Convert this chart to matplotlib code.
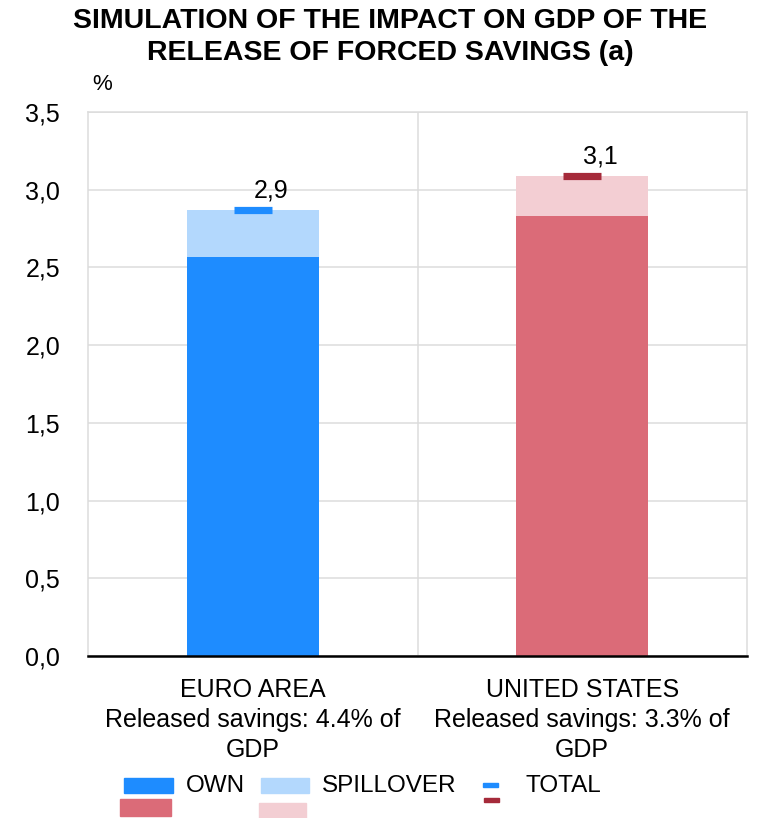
import matplotlib
matplotlib.use("Agg")
import matplotlib.pyplot as plt
from matplotlib.patches import Rectangle
from matplotlib.ticker import FuncFormatter

plt.rcParams['font.family'] = ['Liberation Sans', 'DejaVu Sans']

categories = ["EURO AREA\nReleased savings: 4.4% of\nGDP",
              "UNITED STATES\nReleased savings: 3.3% of\nGDP"]
own = [2.57, 2.83]
spillover = [0.30, 0.26]
total = [2.87, 3.09]
total_labels = ["2,9", "3,1"]

own_colors = ["#1E8CFF", "#DB6B78"]
spill_colors = ["#B3D8FD", "#F3CED3"]
total_colors = ["#1E8CFF", "#A52A3A"]

FS = 18

fig = plt.figure(figsize=(7.59, 8.18), dpi=100)
ax = fig.add_axes([88/759, 1-656/818, (747-88)/759, (656-112)/818])

x = list(range(len(categories)))
ax.bar(x, own, width=0.4, color=own_colors, zorder=2)
ax.bar(x, spillover, width=0.4, bottom=own, color=spill_colors, zorder=2)
for xi, t, c, lab in zip(x, total, total_colors, total_labels):
    ax.hlines(t, xi - 0.057, xi + 0.057, colors=c, linewidth=5.2, zorder=3)
    ax.annotate(lab, (xi, t), xytext=(13, 5), textcoords="offset points",
                ha="center", va="bottom", fontsize=FS)

ax.set_xlim(-0.5, 1.5)
ax.set_ylim(0, 3.5)
ax.set_yticks([0, 0.5, 1.0, 1.5, 2.0, 2.5, 3.0, 3.5])
ax.yaxis.set_major_formatter(FuncFormatter(lambda v, p: f"{v:.1f}".replace(".", ",")))
ax.set_xticks(x)
ax.set_xticklabels(categories, fontsize=FS, linespacing=1.32)
ax.tick_params(axis="both", length=0, labelsize=FS)
ax.tick_params(axis="y", pad=20)
ax.tick_params(axis="x", pad=16)

grid_c = "#DCDCDC"
ax.grid(axis="y", color=grid_c, linewidth=1.1, zorder=0)
ax.axvline(0.5, color=grid_c, linewidth=1.1, zorder=0)
for s in ["left", "right", "top"]:
    ax.spines[s].set_color(grid_c)
    ax.spines[s].set_linewidth(1.1)
ax.spines["bottom"].set_color("black")
ax.spines["bottom"].set_linewidth(1.8)
ax.spines["bottom"].set_zorder(4)

W, H = 759, 818
fig.text(390/W, 1-21/H, "SIMULATION OF THE IMPACT ON GDP OF THE",
         ha="center", va="center", fontsize=20.5, fontweight="bold")
fig.text(390/W, 1-53/H, "RELEASE OF FORCED SAVINGS (a)",
         ha="center", va="center", fontsize=20.5, fontweight="bold")
fig.text(102/W, 1-85/H, "%", ha="center", va="center", fontsize=16)

# legend drawn in figure pixels
def patch(x0, y0, x1, y1, color):
    fig.patches.append(Rectangle((x0/W, 1-y1/H), (x1-x0)/W, (y1-y0)/H,
                                 transform=fig.transFigure, color=color))
patch(124, 778, 173, 793, own_colors[0])
patch(120, 799, 171, 816, own_colors[1])
patch(261, 778, 309, 793, spill_colors[0])
patch(259, 803, 306, 818, spill_colors[1])
patch(483, 783, 498, 787, total_colors[0])
patch(484, 798, 499, 802, total_colors[1])
for tx, txt in [(186, "OWN"), (322, "SPILLOVER"), (526, "TOTAL")]:
    fig.text(tx/W, 1-786/H, txt, ha="left", va="center", fontsize=17.5)

fig.savefig("out.png", dpi=100)
